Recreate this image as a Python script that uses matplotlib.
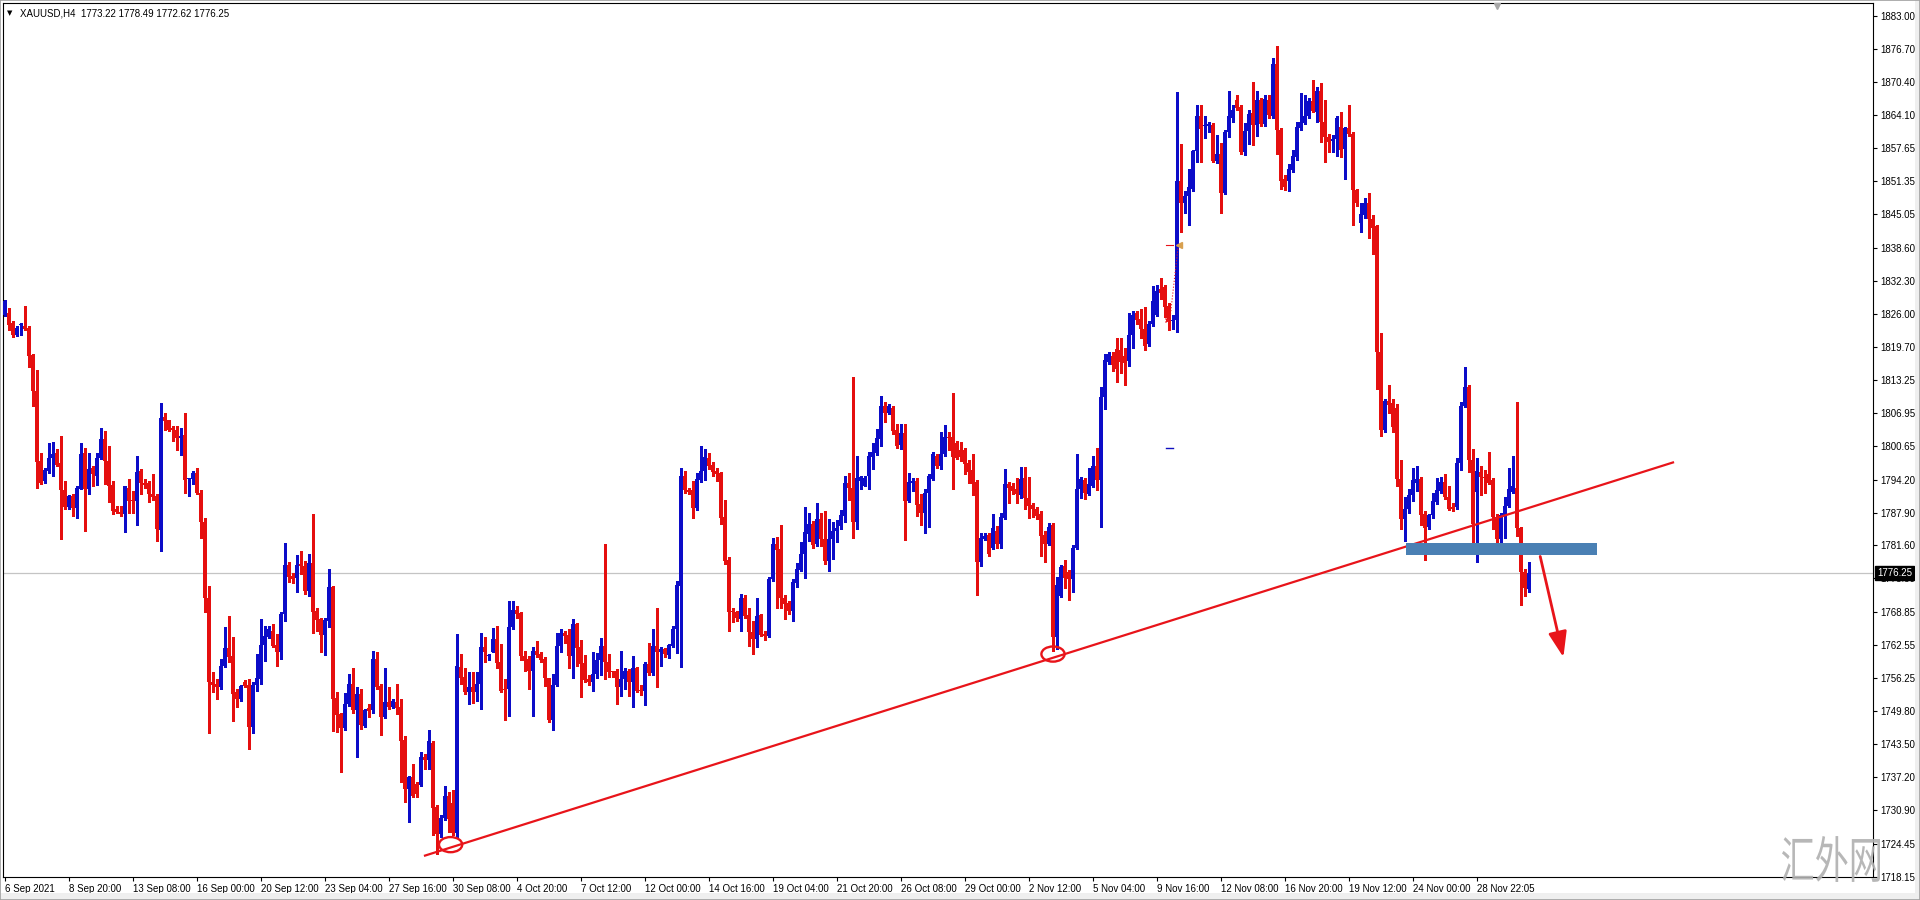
import numpy as np
import matplotlib
matplotlib.use("Agg")
import matplotlib.pyplot as plt
from matplotlib.patches import Ellipse, Rectangle, PathPatch
from matplotlib.textpath import TextPath
from matplotlib.font_manager import FontProperties
from matplotlib.transforms import Affine2D

plt.rcParams['font.family'] = ['Liberation Sans', 'DejaVu Sans']

# XAUUSD H4 candles (bar 0 = 6 Sep 2021 00:00)
opens = [
    1825.8, 1826.1, 1824.2, 1822.0, 1823.8, 1823.7, 1823.3, 1818.0, 1811.2, 1797.8,
    1793.9, 1795.9, 1798.4, 1799.4, 1797.3, 1792.3, 1788.9, 1791.1, 1788.7, 1792.5,
    1799.4, 1792.5, 1796.5, 1795.0, 1798.4, 1801.9, 1797.8, 1793.1, 1788.5, 1788.0,
    1787.6, 1792.7, 1790.3, 1790.1, 1795.9, 1793.5, 1793.6, 1791.4, 1791.1, 1784.6,
    1806.2, 1805.6, 1804.1, 1803.8, 1802.2, 1802.7, 1794.3, 1794.4, 1795.4, 1791.7,
    1786.1, 1771.6, 1755.4, 1755.1, 1754.4, 1758.6, 1761.9, 1760.4, 1753.5, 1752.1,
    1755.4, 1754.8, 1746.8, 1754.8, 1756.1, 1762.5, 1764.0, 1765.3, 1762.5, 1761.1,
    1768.5, 1777.8, 1775.8, 1775.3, 1778.0, 1777.6, 1772.9, 1778.3, 1769.1, 1767.5,
    1764.4, 1767.2, 1773.6, 1752.3, 1749.3, 1746.6, 1751.2, 1755.1, 1750.0, 1753.2,
    1747.0, 1750.4, 1750.0, 1759.8, 1754.6, 1748.7, 1751.6, 1750.6, 1751.7, 1750.6,
    1744.4, 1735.0, 1737.2, 1736.0, 1735.8, 1741.0, 1740.6, 1743.8, 1731.5, 1726.4,
    1729.4, 1733.6, 1732.3, 1726.6, 1758.4, 1756.5, 1753.5, 1754.4, 1753.5, 1755.1,
    1762.1, 1760.4, 1761.2, 1763.7, 1759.2, 1754.1, 1754.1, 1765.9, 1769.3, 1768.6,
    1760.5, 1759.8, 1757.6, 1761.4, 1760.8, 1759.8, 1756.2, 1748.2, 1754.9, 1762.4,
    1764.9, 1764.4, 1760.5, 1766.5, 1762.1, 1759.1, 1756.0, 1755.5, 1757.0, 1759.7,
    1762.3, 1759.2, 1757.4, 1757.6, 1754.4, 1756.0, 1757.6, 1755.4, 1758.1, 1754.0,
    1753.8, 1758.9, 1757.2, 1762.3, 1761.1, 1761.7, 1760.6, 1762.4, 1765.6, 1773.9,
    1794.9, 1792.3, 1792.3, 1788.7, 1794.2, 1795.9, 1798.4, 1797.1, 1795.9, 1795.4,
    1787.1, 1778.8, 1769.0, 1768.9, 1767.6, 1771.5, 1768.3, 1765.1, 1763.6, 1768.3,
    1764.6, 1764.3, 1775.2, 1781.8, 1780.9, 1771.6, 1770.5, 1769.1, 1774.5, 1776.9,
    1779.9, 1783.8, 1785.7, 1781.8, 1786.7, 1782.9, 1778.6, 1782.9, 1784.3, 1785.3,
    1787.3, 1793.5, 1792.7, 1786.1, 1793.9, 1793.0, 1794.9, 1798.5, 1799.4, 1802.0,
    1808.4, 1806.9, 1808.0, 1803.7, 1800.8, 1803.2, 1790.1, 1793.5, 1793.9, 1789.5,
    1787.9, 1791.7, 1794.4, 1798.7, 1796.9, 1799.1, 1802.4, 1802.4, 1801.3, 1799.9,
    1799.8, 1797.4, 1796.0, 1793.7, 1778.4, 1782.9, 1783.7, 1781.2, 1784.4, 1781.8,
    1786.8, 1793.3, 1792.9, 1792.5, 1791.3, 1794.6, 1790.6, 1789.4, 1788.6, 1787.6,
    1783.7, 1781.8, 1785.5, 1764.0, 1772.0, 1777.7, 1776.5, 1775.1, 1781.2, 1792.5,
    1794.1, 1791.5, 1793.0, 1796.9, 1794.1, 1810.1, 1816.7, 1817.9, 1819.3, 1819.0,
    1817.9, 1816.9, 1821.9, 1826.1, 1824.9, 1823.0, 1820.2, 1824.1, 1825.8, 1830.7,
    1831.1, 1827.4, 1824.5, 1824.7, 1851.4, 1847.1, 1848.5, 1849.9, 1857.1, 1863.8,
    1861.9, 1861.9, 1862.2, 1855.2, 1856.5, 1849.1, 1860.8, 1863.5, 1866.9, 1865.5,
    1856.9, 1861.0, 1864.5, 1862.2, 1867.0, 1862.4, 1866.9, 1863.9, 1873.9, 1861.2,
    1851.8, 1851.4, 1853.6, 1856.0, 1861.6, 1862.5, 1863.9, 1866.7, 1864.7, 1868.6,
    1862.8, 1859.9, 1859.0, 1859.4, 1861.7, 1857.5, 1861.6, 1860.4, 1849.7, 1843.3,
    1844.8, 1847.1, 1844.2, 1842.7, 1818.6, 1803.8, 1809.3, 1808.9, 1807.9, 1794.4,
    1786.6, 1788.6, 1791.3, 1793.6, 1794.4, 1787.6, 1785.1, 1787.4, 1789.9, 1792.1,
    1793.8, 1790.9, 1789.0, 1789.0, 1797.4, 1808.3, 1812.0, 1798.0, 1791.9, 1795.6,
    1794.8, 1795.2, 1794.1, 1787.0, 1782.9, 1787.2, 1789.2, 1791.9, 1792.7, 1784.9,
    1776.5, 1773.22,
]
highs = [
    1828.7, 1827.1, 1824.5, 1823.6, 1824.3, 1827.4, 1823.6, 1818.2, 1815.3, 1799.4,
    1796.5, 1801.3, 1801.4, 1800.1, 1802.5, 1793.9, 1791.2, 1791.4, 1793.0, 1801.3,
    1800.3, 1799.4, 1796.8, 1799.4, 1804.1, 1803.5, 1800.6, 1793.9, 1789.2, 1789.2,
    1793.0, 1794.3, 1792.0, 1798.7, 1796.2, 1794.3, 1793.9, 1795.2, 1791.4, 1808.9,
    1807.0, 1805.7, 1804.5, 1804.5, 1804.1, 1807.0, 1794.6, 1795.9, 1796.5, 1792.3,
    1786.9, 1773.9, 1757.3, 1756.0, 1759.8, 1765.9, 1768.0, 1764.0, 1754.1, 1754.9,
    1755.9, 1756.0, 1755.4, 1760.8, 1767.5, 1766.2, 1766.2, 1766.5, 1764.6, 1768.8,
    1782.0, 1778.5, 1776.3, 1779.7, 1780.6, 1778.6, 1779.9, 1787.6, 1769.7, 1767.8,
    1767.8, 1777.0, 1773.9, 1753.5, 1749.6, 1753.3, 1757.0, 1758.2, 1754.4, 1754.2,
    1750.3, 1751.2, 1761.4, 1761.1, 1755.1, 1758.2, 1754.4, 1752.2, 1755.1, 1752.2,
    1745.2, 1737.5, 1739.8, 1736.3, 1742.1, 1741.7, 1746.2, 1744.2, 1731.8, 1730.0,
    1735.6, 1734.3, 1734.7, 1764.6, 1760.8, 1758.2, 1757.3, 1757.3, 1757.3, 1764.8,
    1764.0, 1760.8, 1765.7, 1766.1, 1762.7, 1756.0, 1771.0, 1771.0, 1770.0, 1768.8,
    1761.4, 1760.5, 1762.1, 1763.3, 1761.1, 1760.2, 1756.3, 1757.0, 1764.9, 1765.6,
    1765.3, 1765.6, 1767.5, 1766.8, 1763.5, 1760.6, 1756.8, 1761.1, 1761.0, 1763.8,
    1781.8, 1760.8, 1757.6, 1757.9, 1761.4, 1758.2, 1757.9, 1760.5, 1758.3, 1754.8,
    1759.3, 1762.9, 1765.6, 1769.7, 1762.1, 1761.9, 1762.7, 1766.2, 1774.8, 1796.5,
    1795.9, 1792.7, 1793.9, 1795.4, 1800.6, 1800.0, 1799.4, 1797.5, 1796.5, 1795.7,
    1790.4, 1779.3, 1769.7, 1769.1, 1772.3, 1772.1, 1769.7, 1767.2, 1771.6, 1768.5,
    1765.3, 1775.5, 1783.1, 1783.3, 1785.5, 1772.1, 1771.0, 1775.2, 1778.3, 1782.2,
    1788.9, 1787.9, 1786.3, 1789.8, 1787.9, 1788.2, 1786.6, 1786.0, 1786.5, 1788.4,
    1794.9, 1795.4, 1813.9, 1798.7, 1795.0, 1794.9, 1799.5, 1801.3, 1803.9, 1810.3,
    1809.1, 1808.6, 1808.3, 1804.8, 1804.8, 1804.8, 1795.4, 1794.6, 1794.6, 1791.4,
    1792.5, 1795.2, 1799.5, 1799.1, 1803.4, 1804.6, 1803.4, 1810.8, 1801.6, 1801.5,
    1800.3, 1798.0, 1799.1, 1794.1, 1783.9, 1783.9, 1784.0, 1787.6, 1785.4, 1787.8,
    1796.2, 1793.8, 1793.5, 1794.6, 1796.6, 1796.6, 1794.8, 1789.8, 1789.0, 1788.2,
    1784.3, 1785.9, 1785.9, 1775.5, 1777.9, 1778.8, 1776.9, 1781.6, 1799.1, 1794.8,
    1794.5, 1796.4, 1798.7, 1800.3, 1812.0, 1818.3, 1818.7, 1818.7, 1821.4, 1821.4,
    1819.4, 1826.1, 1826.6, 1826.6, 1826.8, 1827.2, 1824.5, 1831.3, 1831.5, 1832.9,
    1831.5, 1828.0, 1825.7, 1868.4, 1858.5, 1849.5, 1853.8, 1857.3, 1865.9, 1865.9,
    1863.8, 1862.8, 1862.5, 1860.2, 1858.6, 1861.2, 1868.6, 1865.9, 1867.8, 1865.9,
    1862.5, 1865.1, 1870.3, 1868.6, 1867.4, 1867.8, 1867.8, 1875.0, 1877.2, 1861.6,
    1852.6, 1854.6, 1857.3, 1862.7, 1868.2, 1867.8, 1867.4, 1870.8, 1869.4, 1870.2,
    1866.9, 1860.4, 1860.2, 1863.9, 1864.7, 1861.7, 1865.9, 1860.8, 1849.9, 1847.1,
    1848.2, 1849.2, 1844.8, 1843.0, 1822.2, 1809.7, 1812.4, 1809.7, 1808.7, 1797.9,
    1790.9, 1792.5, 1796.4, 1796.8, 1794.8, 1788.2, 1787.6, 1791.7, 1794.6, 1794.8,
    1795.2, 1793.0, 1789.8, 1798.3, 1809.0, 1815.7, 1812.4, 1800.0, 1798.3, 1796.9,
    1796.0, 1799.5, 1794.6, 1787.6, 1787.8, 1790.8, 1796.4, 1798.7, 1809.1, 1785.1,
    1777.1, 1778.49,
]
lows = [
    1825.5, 1822.9, 1821.5, 1821.8, 1822.0, 1822.8, 1815.8, 1808.4, 1792.7, 1793.3,
    1793.6, 1795.5, 1794.9, 1796.8, 1782.8, 1788.5, 1788.5, 1787.3, 1786.9, 1792.4,
    1784.3, 1791.4, 1793.0, 1793.1, 1798.1, 1793.3, 1789.9, 1787.6, 1787.9, 1787.3,
    1784.1, 1787.9, 1787.9, 1785.5, 1791.4, 1792.7, 1789.9, 1790.4, 1782.5, 1780.6,
    1803.8, 1803.5, 1801.6, 1799.9, 1799.0, 1791.7, 1791.0, 1793.3, 1791.4, 1783.1,
    1768.8, 1745.7, 1753.5, 1752.1, 1754.2, 1758.3, 1759.2, 1747.9, 1750.6, 1751.9,
    1754.4, 1742.6, 1745.7, 1753.8, 1755.1, 1759.5, 1763.8, 1762.1, 1758.5, 1759.8,
    1767.2, 1774.6, 1774.4, 1772.7, 1776.1, 1772.3, 1771.9, 1764.9, 1765.3, 1761.1,
    1760.6, 1765.9, 1746.1, 1745.8, 1738.2, 1746.3, 1750.9, 1749.6, 1741.0, 1746.5,
    1746.8, 1748.7, 1749.6, 1754.1, 1745.3, 1748.5, 1750.3, 1750.4, 1749.3, 1736.3,
    1732.5, 1728.7, 1733.4, 1733.4, 1735.6, 1738.8, 1738.8, 1726.1, 1722.6, 1725.8,
    1729.1, 1726.7, 1726.1, 1725.7, 1755.1, 1753.2, 1751.2, 1751.4, 1751.9, 1750.2,
    1759.2, 1759.7, 1761.1, 1758.1, 1753.5, 1748.2, 1749.0, 1765.6, 1767.8, 1759.7,
    1757.6, 1754.1, 1749.0, 1760.2, 1759.2, 1754.7, 1747.7, 1746.3, 1754.6, 1761.1,
    1763.0, 1758.2, 1756.3, 1758.6, 1752.5, 1755.4, 1754.9, 1753.8, 1756.2, 1756.8,
    1756.0, 1756.5, 1756.4, 1751.2, 1752.8, 1754.2, 1752.8, 1750.6, 1753.5, 1752.9,
    1751.0, 1756.8, 1756.7, 1754.4, 1758.6, 1760.2, 1760.0, 1762.1, 1761.0, 1758.3,
    1791.6, 1791.4, 1786.9, 1788.4, 1793.8, 1794.1, 1796.2, 1794.9, 1794.0, 1785.7,
    1778.0, 1765.3, 1767.0, 1767.2, 1765.3, 1767.8, 1762.4, 1760.8, 1762.1, 1764.2,
    1763.4, 1764.0, 1774.8, 1769.7, 1769.7, 1767.6, 1768.5, 1767.2, 1773.7, 1776.7,
    1775.3, 1782.5, 1781.2, 1781.5, 1781.5, 1778.0, 1776.7, 1779.0, 1782.2, 1784.7,
    1786.1, 1790.4, 1783.1, 1784.7, 1792.5, 1792.9, 1792.4, 1796.2, 1799.0, 1800.6,
    1805.2, 1806.7, 1802.9, 1800.3, 1800.0, 1782.7, 1789.9, 1792.0, 1787.2, 1785.5,
    1783.9, 1785.1, 1794.1, 1796.4, 1796.2, 1798.7, 1799.9, 1792.5, 1798.2, 1797.7,
    1795.2, 1793.5, 1791.3, 1772.2, 1777.7, 1782.6, 1779.5, 1780.9, 1781.2, 1781.2,
    1786.6, 1789.8, 1791.5, 1789.8, 1790.7, 1788.6, 1786.8, 1787.0, 1786.7, 1779.6,
    1778.5, 1781.6, 1761.3, 1761.7, 1771.8, 1773.4, 1771.2, 1772.6, 1781.0, 1790.6,
    1790.5, 1791.3, 1792.8, 1792.3, 1785.2, 1807.7, 1816.3, 1815.1, 1813.0, 1814.7,
    1812.4, 1815.9, 1819.4, 1824.1, 1821.4, 1819.0, 1819.8, 1823.7, 1825.6, 1828.8,
    1825.3, 1822.9, 1823.0, 1822.5, 1841.7, 1845.2, 1843.0, 1849.5, 1855.0, 1855.0,
    1859.6, 1860.8, 1855.0, 1854.9, 1845.2, 1848.9, 1859.9, 1862.7, 1865.1, 1856.5,
    1856.3, 1858.5, 1858.3, 1860.0, 1862.0, 1862.0, 1863.5, 1863.5, 1856.5, 1849.9,
    1849.7, 1849.5, 1853.1, 1855.5, 1861.2, 1862.3, 1863.5, 1864.7, 1862.8, 1858.9,
    1855.0, 1856.9, 1856.9, 1856.1, 1856.0, 1851.8, 1860.0, 1843.0, 1846.7, 1841.7,
    1844.4, 1840.5, 1837.4, 1811.6, 1802.6, 1803.4, 1806.9, 1803.4, 1793.0, 1784.7,
    1782.4, 1787.8, 1790.1, 1792.1, 1785.5, 1778.8, 1784.8, 1786.9, 1789.6, 1791.7,
    1790.5, 1788.3, 1788.2, 1788.6, 1796.0, 1808.1, 1795.6, 1780.8, 1778.4, 1791.3,
    1791.7, 1793.3, 1784.7, 1781.6, 1782.3, 1783.1, 1789.0, 1791.7, 1783.5, 1770.2,
    1772.0, 1772.62,
]
closes = [
    1828.4, 1823.9, 1822.0, 1823.3, 1823.9, 1823.1, 1817.8, 1811.2, 1797.6, 1793.6,
    1796.0, 1798.4, 1799.2, 1797.1, 1792.2, 1788.9, 1791.1, 1788.7, 1792.7, 1799.2,
    1792.5, 1796.3, 1795.2, 1798.4, 1801.9, 1797.8, 1793.0, 1788.2, 1788.0, 1787.6,
    1792.9, 1790.1, 1790.1, 1795.7, 1793.5, 1793.1, 1791.4, 1790.8, 1784.7, 1806.0,
    1805.4, 1803.8, 1803.7, 1802.2, 1802.5, 1794.1, 1794.5, 1795.4, 1791.7, 1786.1,
    1771.6, 1755.4, 1754.9, 1754.4, 1758.6, 1761.9, 1760.2, 1753.2, 1752.1, 1754.6,
    1754.6, 1746.8, 1754.9, 1756.3, 1762.5, 1764.3, 1765.6, 1762.4, 1761.1, 1768.5,
    1777.8, 1775.5, 1775.1, 1777.8, 1777.6, 1772.9, 1778.3, 1768.9, 1767.4, 1764.4,
    1767.4, 1773.6, 1752.2, 1749.1, 1746.6, 1751.2, 1755.1, 1750.0, 1753.2, 1747.2,
    1750.0, 1749.8, 1759.8, 1754.4, 1748.7, 1751.6, 1750.6, 1751.9, 1750.4, 1744.2,
    1735.0, 1737.2, 1733.7, 1734.0, 1741.0, 1740.6, 1744.2, 1731.3, 1726.4, 1729.4,
    1733.6, 1729.3, 1726.6, 1758.6, 1756.3, 1753.5, 1754.4, 1753.5, 1755.1, 1762.1,
    1761.2, 1760.6, 1763.7, 1759.1, 1753.8, 1754.0, 1765.9, 1769.3, 1768.4, 1760.4,
    1759.5, 1757.6, 1761.4, 1760.6, 1759.7, 1756.2, 1748.2, 1754.9, 1762.4, 1764.9,
    1764.2, 1760.5, 1766.5, 1761.9, 1758.9, 1755.9, 1755.5, 1757.0, 1759.7, 1762.3,
    1759.2, 1757.4, 1757.3, 1754.4, 1756.0, 1757.6, 1755.4, 1758.1, 1753.8, 1753.8,
    1758.9, 1757.2, 1762.3, 1761.1, 1761.7, 1760.8, 1762.5, 1765.6, 1774.0, 1794.9,
    1792.2, 1791.8, 1788.7, 1794.3, 1795.9, 1798.6, 1796.8, 1795.7, 1795.2, 1786.9,
    1778.6, 1768.8, 1768.8, 1767.8, 1771.5, 1768.0, 1765.0, 1763.6, 1768.1, 1764.4,
    1764.2, 1775.2, 1781.8, 1780.8, 1771.5, 1770.4, 1769.1, 1774.6, 1777.0, 1779.9,
    1784.1, 1785.7, 1781.6, 1786.7, 1782.9, 1778.6, 1782.9, 1784.4, 1785.0, 1787.4,
    1793.5, 1792.7, 1786.1, 1794.6, 1794.8, 1794.6, 1798.7, 1799.5, 1802.2, 1808.4,
    1806.9, 1808.3, 1803.5, 1800.6, 1803.2, 1790.1, 1793.8, 1793.9, 1789.3, 1787.9,
    1791.6, 1794.9, 1799.1, 1796.8, 1799.1, 1802.4, 1802.1, 1798.5, 1798.4, 1798.5,
    1797.2, 1795.6, 1793.3, 1778.4, 1783.1, 1783.5, 1780.0, 1784.9, 1781.8, 1787.0,
    1793.3, 1792.7, 1792.1, 1791.5, 1794.4, 1790.6, 1789.1, 1788.6, 1787.3, 1783.5,
    1781.8, 1785.2, 1764.0, 1774.0, 1777.4, 1775.3, 1775.1, 1781.2, 1792.5, 1794.4,
    1791.7, 1793.3, 1796.9, 1794.1, 1810.1, 1817.1, 1818.3, 1816.1, 1815.4, 1816.7,
    1816.5, 1821.9, 1825.8, 1824.7, 1823.0, 1819.8, 1824.1, 1828.4, 1830.3, 1830.0,
    1827.2, 1824.5, 1824.8, 1851.4, 1847.1, 1848.5, 1850.3, 1857.1, 1863.8, 1861.4,
    1862.2, 1862.4, 1855.2, 1856.5, 1849.1, 1860.8, 1863.8, 1865.1, 1865.3, 1856.9,
    1861.0, 1864.3, 1862.2, 1867.0, 1862.4, 1867.2, 1864.1, 1873.9, 1861.2, 1851.4,
    1850.3, 1853.8, 1856.1, 1861.7, 1862.7, 1863.9, 1866.7, 1864.9, 1868.6, 1862.8,
    1859.9, 1858.9, 1859.4, 1863.5, 1857.3, 1861.6, 1860.4, 1849.7, 1847.1, 1845.0,
    1847.1, 1844.2, 1842.5, 1818.6, 1803.8, 1809.3, 1808.5, 1804.2, 1794.4, 1786.6,
    1788.6, 1791.3, 1794.1, 1794.4, 1787.4, 1784.9, 1787.4, 1790.2, 1792.3, 1793.8,
    1790.9, 1788.6, 1788.6, 1797.4, 1808.3, 1812.0, 1798.0, 1785.8, 1795.9, 1794.8,
    1794.6, 1793.5, 1787.0, 1782.9, 1787.4, 1789.2, 1792.5, 1792.9, 1784.9, 1776.5,
    1773.4, 1776.25,
]

# time axis labels, one every 16 bars
time_labels = ['6 Sep 2021', '8 Sep 20:00', '13 Sep 08:00', '16 Sep 00:00', '20 Sep 12:00',
               '23 Sep 04:00', '27 Sep 16:00', '30 Sep 08:00', '4 Oct 20:00', '7 Oct 12:00',
               '12 Oct 00:00', '14 Oct 16:00', '19 Oct 04:00', '21 Oct 20:00', '26 Oct 08:00',
               '29 Oct 00:00', '2 Nov 12:00', '5 Nov 04:00', '9 Nov 16:00', '12 Nov 08:00',
               '16 Nov 20:00', '19 Nov 12:00', '24 Nov 00:00', '28 Nov 22:05']
price_ticks = [1883.00, 1876.70, 1870.40, 1864.10, 1857.65, 1851.35, 1845.05, 1838.60,
               1832.30, 1826.00, 1819.70, 1813.25, 1806.95, 1800.65, 1794.20, 1787.90,
               1781.60, 1775.30, 1768.85, 1762.55, 1756.25, 1749.80, 1743.50, 1737.20,
               1730.90, 1724.45, 1718.15]
last_price = 1776.25

# drawn annotations (bar index, price)
trend_x = [105, 417]
trend_y = [1722.2, 1797.5]
circle_x = [111.4, 262.0]
circle_y = [1724.3, 1760.8]
zone_x = [350.2, 398.0]
zone_y = [1779.8, 1782.1]
arrow_x = [383.8, 389.6]
arrow_y = [1779.5, 1760.2]

BULL = '#0c0cc8'
BEAR = '#e50f0f'
RED = '#e8141a'

o = np.array(opens)
h = np.array(highs)
l = np.array(lows)
c = np.array(closes)
x = np.arange(len(c))
cols = np.where(c >= o, BULL, BEAR)

fig = plt.figure(figsize=(19.2, 9), dpi=100, facecolor='white')
ax = fig.add_axes([3 / 1920, 23 / 900, 1870 / 1920, 874 / 900])
ax.set_facecolor('white')

ax.axhline(last_price, color='#c4c4c4', lw=0.9, zorder=0)

ax.vlines(x, l, h, colors=cols, lw=0.75, zorder=2, antialiased=False)
body_low = np.minimum(o, c)
body_h = np.maximum(np.abs(c - o), 0.2)
ax.bar(x, body_h, bottom=body_low, width=0.76, color=cols, linewidth=0, zorder=3,
       antialiased=False)

# trend line, circles, support zone, arrow
ax.plot(trend_x, trend_y, color=RED, lw=1.6, zorder=4)
for cx, cy in zip(circle_x, circle_y):
    ax.add_patch(Ellipse((cx, cy), 5.8, 2.9, fill=False, ec=RED, lw=1.7, zorder=5))
ax.add_patch(Rectangle((zone_x[0], zone_y[0]), zone_x[1] - zone_x[0], zone_y[1] - zone_y[0],
                       fc='#4a80b4', ec='none', zorder=4))
ax.annotate('', xy=(arrow_x[1], arrow_y[1]), xytext=(arrow_x[0], arrow_y[0]),
            arrowprops=dict(arrowstyle='-|>,head_length=1.1,head_width=0.4', mutation_scale=14,
                            color=RED, lw=2, shrinkA=0, shrinkB=0), zorder=6)

# small trade markers left on the chart
ax.plot([291.2, 293.3], [1824.8, 1839.0], color=RED, lw=0.8, ls=':', zorder=4)
ax.plot([290.2, 292.1], [1839.2, 1839.2], color=RED, lw=0.8, zorder=4)
ax.plot([293.5], [1839.2], marker='<', ms=4, color='#d8a050', zorder=5)
ax.plot([290.6], [1824.8], marker='x', ms=3.5, mew=1, color=RED, zorder=5)
ax.plot([290.2, 291.9], [1800.3, 1800.3], color='#1010c0', lw=1.0, zorder=4)

ax.set_xlim(-0.5, 467.0)
ax.set_ylim(1718.1, 1885.5)

ax.yaxis.tick_right()
ax.set_yticks(price_ticks)
ax.set_yticklabels([f'{v:.2f}' for v in price_ticks])
ax.set_xticks(np.arange(len(time_labels)) * 16)
ax.set_xticklabels(time_labels, ha='left')
ax.tick_params(axis='both', length=3, width=0.8, color='black', labelsize=7, labelcolor='black')
ax.tick_params(axis='y', pad=2)
ax.tick_params(axis='x', pad=2)
for s in ax.spines.values():
    s.set_color('black')
    s.set_linewidth(0.8)

# current price box on the price scale
ax.annotate(f'{last_price:.2f}', xy=(1.0, last_price), xycoords=('axes fraction', 'data'),
            xytext=(4, 0), textcoords='offset pixels', ha='left', va='center', color='white',
            fontsize=7, annotation_clip=False, zorder=10,
            bbox=dict(boxstyle='square,pad=0.2', fc='black', ec='black'))

# chart shift marker at the top
ax.plot([0.799], [0.997], transform=ax.transAxes, marker='v', ms=5, color='#a8a8a8',
        clip_on=False, zorder=6)

# header
fig.text(7 / 1920, 1 - 13 / 900, '▼', fontsize=5, family='DejaVu Sans', va='center')
fig.text(20 / 1920, 1 - 13 / 900, 'XAUUSD,H4  1773.22 1778.49 1772.62 1776.25',
         fontsize=7, va='center')

# window frame
fig.patches.append(Rectangle((0, 0), 1, 7 / 900, transform=fig.transFigure,
                             fc='#efefef', ec='none', zorder=0))
fig.patches.append(Rectangle((1915 / 1920, 0), 5 / 1920, 1, transform=fig.transFigure,
                             fc='#efefef', ec='none', zorder=0))
fig.patches.append(Rectangle((0, 0), 1, 1, transform=fig.transFigure, fill=False,
                             ec='#a0a0a0', lw=1.2, zorder=0))

# watermark
tp = TextPath((0, 0), '汇外网', size=100, prop=FontProperties(family='Noto Sans CJK SC'))
bb = tp.get_extents()
wm_tr = Affine2D().translate(-bb.x0, -bb.y0).scale(98 / bb.width, 46 / bb.height).translate(1782, 18)
wm = PathPatch(tp, transform=wm_tr, fc='#b0b0b0', ec='none', alpha=0.9, zorder=20)
fig.add_artist(wm)

fig.savefig('out.png', dpi=100, facecolor='white')
